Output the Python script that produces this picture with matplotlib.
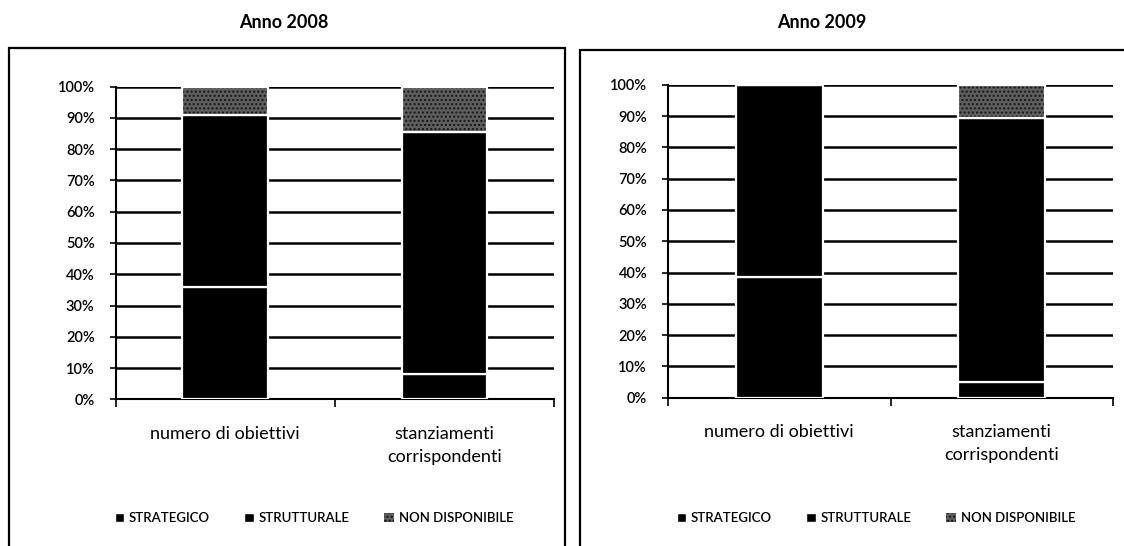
import matplotlib
matplotlib.use("Agg")
import matplotlib.pyplot as plt
from matplotlib.patches import Rectangle, Patch

plt.rcParams['font.family'] = ['Lato', 'DejaVu Sans']

categories = ["numero di obiettivi", "stanziamenti\ncorrispondenti"]
series_names = ["STRATEGICO", "STRUTTURALE", "NON DISPONIBILE"]
years = ["Anno 2008", "Anno 2009"]

strategico_2008 = [36.0, 8.0]
strutturale_2008 = [55.0, 77.5]
non_disp_2008 = [9.0, 14.5]

strategico_2009 = [38.5, 5.0]
strutturale_2009 = [61.5, 84.5]
non_disp_2009 = [0.0, 10.5]

yticks = [0, 10, 20, 30, 40, 50, 60, 70, 80, 90, 100]
ytick_labels = [f"{v}%" for v in yticks]

data = [
    (strategico_2008, strutturale_2008, non_disp_2008),
    (strategico_2009, strutturale_2009, non_disp_2009),
]

W, H = 1124, 546
fig = plt.figure(figsize=(W / 100, H / 100), dpi=100)

# axes rectangles in pixel coordinates: (left, right, y of 0%, y of 100%)
ax_px = [(115.5, 554, 399.3, 86.7), (668, 1113, 397.7, 84.7)]
# outer panel frames: (left, top, right)
frame_px = [(9, 48, 565), (580, 50, 1130)]
title_px = [(284, 22), (822, 23)]
legend_px = [(314, 518), (876, 518)]

bar_width = 0.39
nd_face = '#5e5e5e'
nd_hatch = '#151515'

for i, ((s1, s2, s3), (x0, x1, y0, y1)) in enumerate(zip(data, ax_px)):
    ax = fig.add_axes([x0 / W, 1 - y0 / H, (x1 - x0) / W, (y0 - y1) / H])
    x = list(range(len(categories)))
    bottom2 = s1
    bottom3 = [a + b for a, b in zip(s1, s2)]

    ax.bar(x, s1, width=bar_width, color='black', edgecolor='white', linewidth=1.6, zorder=3)
    ax.bar(x, s2, width=bar_width, bottom=bottom2, color='black', edgecolor='white', linewidth=1.6, zorder=3)
    ax.bar(x, s3, width=bar_width, bottom=bottom3, color=nd_face, edgecolor=nd_hatch,
           hatch='....', linewidth=0, zorder=3)
    ax.bar(x, s3, width=bar_width, bottom=bottom3, facecolor='none', edgecolor='white',
           linewidth=1.6, zorder=4)

    ax.set_xlim(-0.5, 1.5)
    ax.set_ylim(0, 100)
    ax.set_yticks(yticks)
    ax.set_yticklabels(ytick_labels, fontsize=10.5, fontweight='semibold')
    ax.yaxis.grid(True, color='black', linewidth=1.8, zorder=0)
    ax.set_axisbelow(True)

    ax.set_xticks([-0.5, 0.5, 1.5])
    ax.set_xticklabels([])
    ax.tick_params(axis='x', direction='out', length=6, width=1.2, color='black')
    ax.tick_params(axis='y', direction='out', length=4, width=1.2, color='black', pad=11)
    for sp in ['top', 'right']:
        ax.spines[sp].set_visible(False)
    ax.spines['left'].set_linewidth(1.5)
    ax.spines['bottom'].set_linewidth(1.5)

    for xi, lab in zip(x, categories):
        ax.text(xi, -8.5, lab, ha='center', va='top', fontsize=13,
                linespacing=1.55, transform=ax.transData, clip_on=False)

    # panel frame
    fl, ft, fr = frame_px[i]
    fig.patches.append(Rectangle((fl / W, -0.05), (fr - fl) / W, 1 - ft / H + 0.05,
                                 transform=fig.transFigure, fill=False,
                                 edgecolor='black', linewidth=1.6))

    tx, ty = title_px[i]
    fig.text(tx / W, 1 - ty / H, years[i], ha='center', va='center',
             fontsize=13, fontweight='bold')

    handles = [
        Patch(facecolor='black', edgecolor='white'),
        Patch(facecolor='black', edgecolor='white'),
        Patch(facecolor=nd_face, edgecolor=nd_hatch, hatch='....', linewidth=0),
    ]
    lx, ly = legend_px[i]
    fig.legend(handles, series_names, loc='center', ncol=3,
               bbox_to_anchor=(lx / W, 1 - ly / H), frameon=False,
               prop={'size': 9.5, 'weight': 'semibold'},
               handlelength=0.7, handleheight=0.7, handletextpad=0.4,
               columnspacing=2.6)

fig.savefig("out.png", dpi=100)
